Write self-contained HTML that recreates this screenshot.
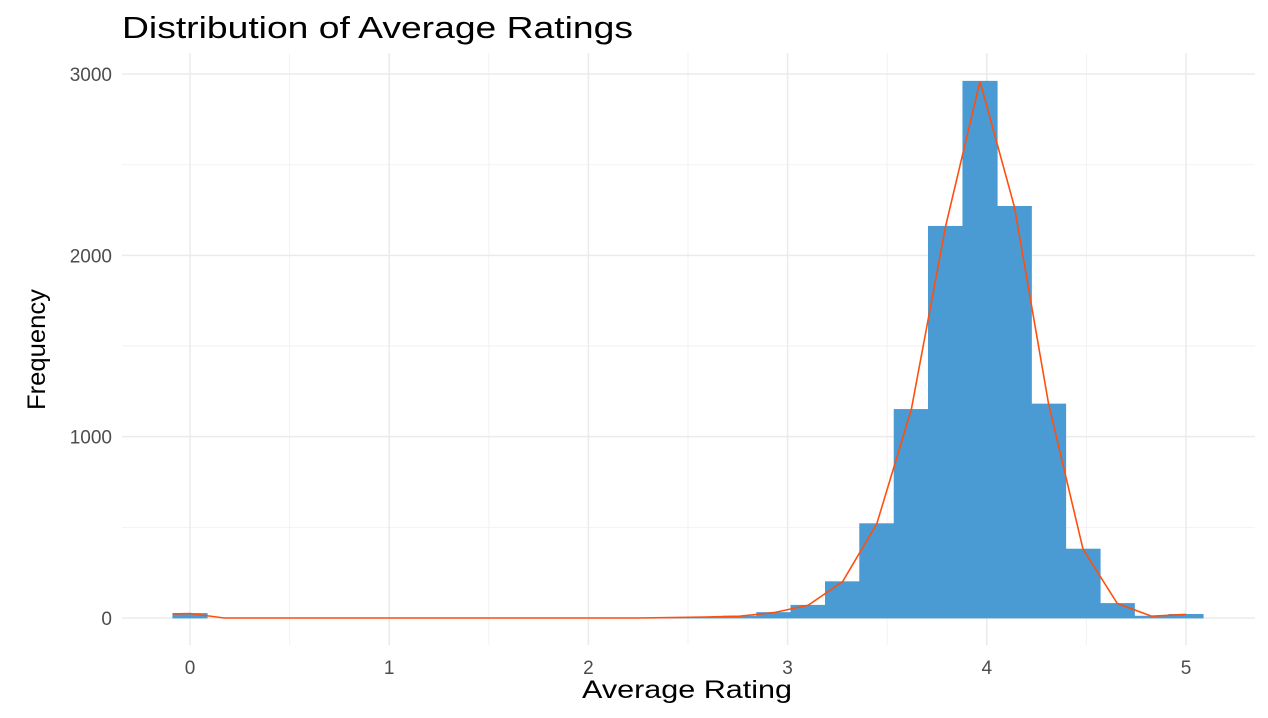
<!DOCTYPE html>
<html><head><meta charset="utf-8">
<style>
html,body{margin:0;padding:0;background:#fff;}
svg{display:block;font-family:"Liberation Sans",Arial,sans-serif;}
</style></head>
<body>
<svg id="chart" width="1268" height="718" viewBox="0 0 1268 718">
<text x="122" y="38" font-size="31" textLength="511" lengthAdjust="spacingAndGlyphs" fill="#000">Distribution of Average Ratings</text>
<g id="grid"></g>
<g id="bars"></g>
<g id="line"></g>
<g id="axes"></g>
<text x="582" y="698" font-size="25" textLength="210" lengthAdjust="spacingAndGlyphs" fill="#000">Average Rating</text>
<text transform="translate(45,410) rotate(-90)" font-size="25" textLength="121" lengthAdjust="spacingAndGlyphs" fill="#000">Frequency</text>
</svg>
<script>
const binCenters = [0,0.172,0.345,0.517,0.69,0.862,1.034,1.207,1.379,1.552,1.724,1.897,2.069,2.241,2.414,2.586,2.759,2.931,3.103,3.276,3.448,3.621,3.793,3.966,4.138,4.31,4.483,4.655,4.828,5];
const counts = [25,0,0,0,0,0,0,0,0,0,0,0,0,0,2,5,10,30,70,200,520,1150,2160,2960,2270,1180,380,80,10,20];
const xTicks = [0,1,2,3,4,5];
const yTicks = [0,1000,2000,3000];
const binWidth = 5/29;
const NS="http://www.w3.org/2000/svg";
const X0=122,X1=1255,Y0=53,Y1=645;
function xs(v){return 190+v*199.2;}
function ys(v){return 618-v*0.18133;}
function mk(tag,attrs,parent){const e=document.createElementNS(NS,tag);for(const k in attrs)e.setAttribute(k,attrs[k]);parent.appendChild(e);return e;}
const grid=document.getElementById('grid');
for(let v=0.5;v<5;v+=1){const l=mk('line',{x1:xs(v),x2:xs(v),y1:Y0,y2:Y1,stroke:'#f2f2f2','stroke-width':1},grid);

}
for(let v=500;v<3500;v+=1000){const l=mk('line',{x1:X0,x2:X1,y1:ys(v),y2:ys(v),stroke:'#f2f2f2','stroke-width':1},grid);

}
const axes=document.getElementById('axes');
xTicks.forEach(t=>{const l=mk('line',{x1:xs(t),x2:xs(t),y1:Y0,y2:Y1,stroke:'#ebebeb','stroke-width':1.5},grid);


const tx=mk('text',{x:xs(t),y:674,'font-size':19,'text-anchor':'middle',fill:'#4d4d4d'},axes);tx.textContent=t;

});
yTicks.forEach(t=>{const l=mk('line',{x1:X0,x2:X1,y1:ys(t),y2:ys(t),stroke:'#ebebeb','stroke-width':1.5},grid);


const tx=mk('text',{x:112,y:ys(t)+7,'font-size':19,'text-anchor':'end',fill:'#4d4d4d'},axes);tx.textContent=t;

});
const bars=document.getElementById('bars');
counts.forEach((c,i)=>{if(c<=0)return;const x=xs(binCenters[i]-binWidth/2),w=xs(binCenters[i]+binWidth/2)-x;
const r=mk('rect',{x:x,y:ys(c),width:w,height:ys(0)-ys(c),fill:'#4a9bd3',stroke:'#4a9bd3','stroke-width':0.8},bars);

});
const pts=binCenters.map((b,i)=>xs(b).toFixed(1)+','+ys(counts[i]).toFixed(1));
pts.unshift(xs(-binWidth/2)+','+ys(counts[0]*0.9));
const pl=mk('polyline',{points:pts.join(' '),fill:'none',stroke:'#ff4f0f','stroke-width':1.6},document.getElementById('line'));


</script>
</body></html>
